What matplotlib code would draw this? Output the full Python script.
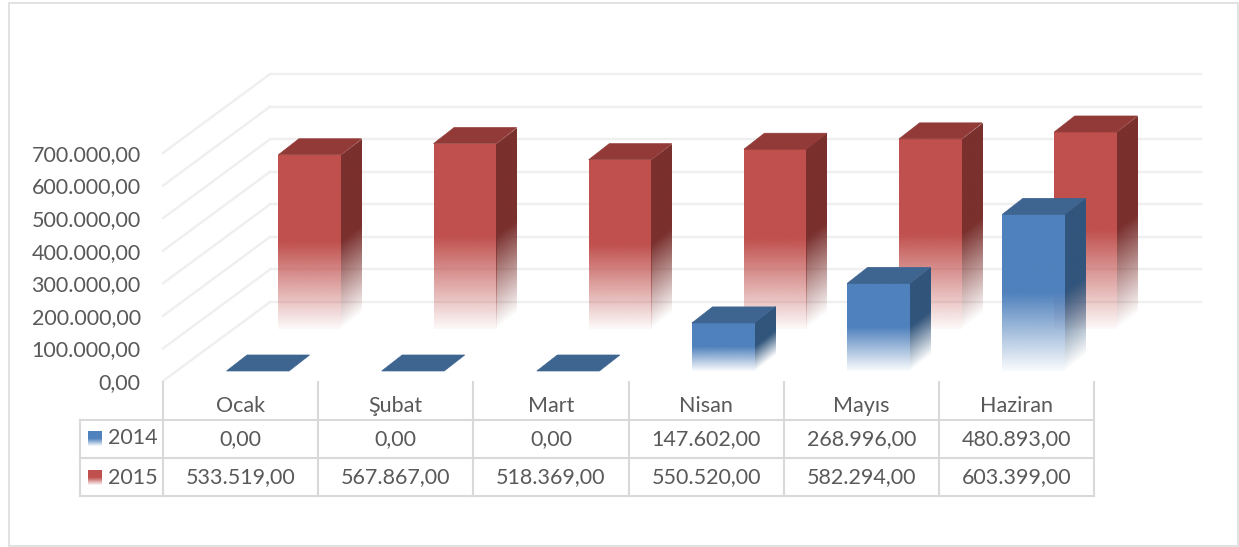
import numpy as np
import matplotlib
matplotlib.use('Agg')
import matplotlib.pyplot as plt
from matplotlib.colors import to_rgb
from matplotlib.patches import Polygon
from matplotlib.transforms import Affine2D

months = ['Ocak', 'Şubat', 'Mart', 'Nisan', 'Mayıs', 'Haziran']
values_2014 = [0, 0, 0, 147602, 268996, 480893]
values_2015 = [533519, 567867, 518369, 550520, 582294, 603399]
y_ticks = [0, 100000, 200000, 300000, 400000, 500000, 600000, 700000]

W, H = 1239, 547
TEXT = '#595959'
GRID = '#EFEFEF'
TABLE = '#D9D9D9'
FS = 15.5

# oblique projection: one unit of depth in axis units
FLOOR_DX = 107 / 155.17
FLOOR_DY = 79 / 32.6 * 100000
BAR_W = 62.5 / 155.17
BAR_DX = 20.5 / 155.17
BAR_DY = 0.2025 * FLOOR_DY


def tr_format(v):
    # Turkish number style, 533.519,00
    return f'{v:,.2f}'.replace(',', '#').replace('.', ',').replace('#', '.')


def project(x, y, depth):
    return x + depth * FLOOR_DX, y + depth * FLOOR_DY


def fade_image(color, n=200, floor=0.03):
    # solid for the upper half, fading almost to white in the lower half
    t = (np.arange(n) + 0.5) / n
    img = np.zeros((n, 4, 4))
    img[:, :, :3] = to_rgb(color)
    low = floor + (1 - floor) * np.clip((1 - t) / 0.5, 0, 1)
    img[:, :, 3] = np.where(t < 0.5, 1.0, low)[:, None]
    return img


def gradient_face(ax, origin, u, v, color, floor=0.03):
    # unit square image mapped on the parallelogram origin + s*u + t*v, row 0 at t=1
    im = ax.imshow(fade_image(color, floor=floor), extent=(0, 1, 0, 1), origin='upper',
                   aspect='auto', interpolation='bilinear', clip_on=False, zorder=3)
    m = Affine2D.from_values(u[0], u[1], v[0], v[1], origin[0], origin[1])
    im.set_transform(m + ax.transData)
    return im


def draw_bar(ax, cat, value, depth, offset, front, top, side):
    x0 = cat + offset
    x1, y1 = project(x0, 0, depth)
    x2 = x1 + BAR_W
    if value > 0:
        gradient_face(ax, (x1, y1), (BAR_W, 0), (0, value), front)
        gradient_face(ax, (x2, y1), (BAR_DX, BAR_DY), (0, value), side, floor=0.0)
    # edge stroke hides the light seam the image edges leave
    ax.add_patch(Polygon([(x1, y1 + value), (x2, y1 + value),
                          (x2 + BAR_DX, y1 + value + BAR_DY), (x1 + BAR_DX, y1 + value + BAR_DY)],
                         closed=True, facecolor=top, edgecolor=top, lw=0.5, clip_on=False, zorder=3))


plt.rcParams['font.family'] = ['Lato', 'DejaVu Sans']
fig = plt.figure(figsize=(W / 100, H / 100), dpi=100, facecolor='white')

ax = fig.add_axes([163 / W, 1 - 381 / H, 931 / W, 228 / H])
ax.patch.set_alpha(0)
for s in ax.spines.values():
    s.set_visible(False)
ax.set_xticks([])
ax.set_yticks(y_ticks)
ax.set_yticklabels([tr_format(v) for v in y_ticks], fontsize=FS, color=TEXT)
ax.tick_params(axis='y', length=0, pad=16)

# walls: side lines running back, then lines along the back wall
for v in y_ticks:
    bx, by = project(0, v, 1)
    ax.plot([0, bx], [v, by], color=GRID, lw=1.7, clip_on=False, zorder=1)
    ax.plot([bx, bx + 931 / 155.17], [by, by], color=GRID, lw=1.7, clip_on=False, zorder=1)

for i, v in enumerate(values_2015):
    draw_bar(ax, i, v, 0.665, 0.2855, '#C0504D', '#923A37', '#7A302D')
for i, v in enumerate(values_2014):
    draw_bar(ax, i, v, 0.127, 0.322, '#4F81BD', '#3E6490', '#31557C')

ax.set_xlim(0, 6)
ax.set_ylim(0, 700000)

# frame and data table, in pixel coordinates
tb = fig.add_axes([0, 0, 1, 1])
tb.axis('off')
tb.patch.set_alpha(0)

tb.add_patch(plt.Rectangle((9, 3), 1229, 543, fill=False, edgecolor='#DDDDDD', lw=1.2))

col_x = np.linspace(163, 1094, 7)
for x in col_x:
    tb.plot([x, x], [382, 496], color=TABLE, lw=1.5)
tb.plot([80, 80], [420, 496], color=TABLE, lw=1.5)
for y in [420, 458, 496]:
    tb.plot([80, 1094], [y, y], color=TABLE, lw=1.5)

centers = (col_x[:-1] + col_x[1:]) / 2
for c, m, a, b in zip(centers, months, values_2014, values_2015):
    tb.text(c, 406, m, ha='center', va='center', fontsize=FS, color=TEXT)
    tb.text(c, 439, tr_format(a), ha='center', va='center', fontsize=FS, color=TEXT)
    tb.text(c, 477, tr_format(b), ha='center', va='center', fontsize=FS, color=TEXT)

# legend keys inside the table
for label, color, y0 in [('2014', '#4F81BD', 431), ('2015', '#C0504D', 470)]:
    tb.imshow(fade_image(color, 30), extent=(88, 102, y0 + 15, y0), aspect='auto',
              interpolation='bilinear', zorder=3)
    tb.text(108, y0 + 7.5, label, ha='left', va='center', fontsize=FS, color=TEXT)

tb.set_xlim(0, W)
tb.set_ylim(H, 0)

fig.savefig('out.png', dpi=100)
plt.close(fig)
